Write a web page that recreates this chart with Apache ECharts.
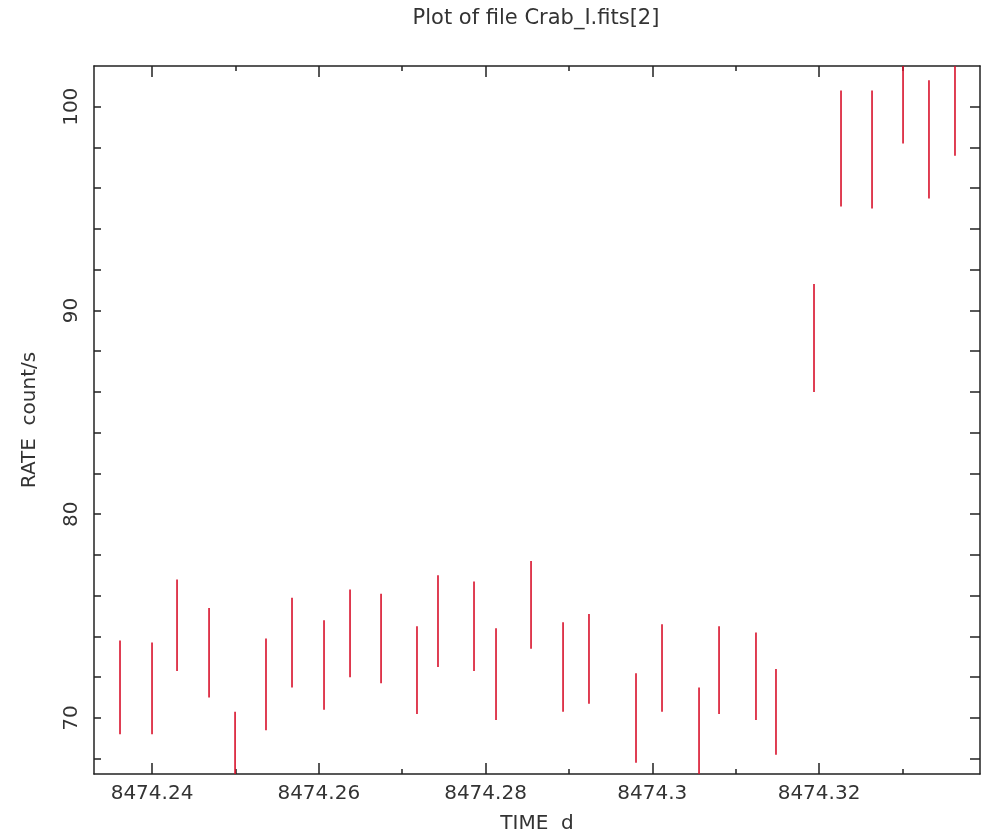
<!DOCTYPE html>
<html>
<head>
<meta charset="utf-8">
<title>Crab_I.fits light curve</title>
<script src="https://cdn.jsdelivr.net/npm/echarts@6/dist/echarts.min.js"></script>
<style>
  html, body { margin: 0; padding: 0; background: #fff; }
  #chart { width: 990px; height: 832px; }
</style>
</head>
<body>
<div id="chart"></div>
<script>
// 时间 (d) 和计数率 (count/s)，误差为半长
var times = [8474.23616, 8474.2400, 8474.2430, 8474.24684, 8474.24996, 8474.25367,
	8474.25679, 8474.26063, 8474.26375, 8474.26747, 8474.27178, 8474.27430,
	8474.27862, 8474.28126, 8474.28546, 8474.28930, 8474.29241, 8474.29805,
	8474.30117, 8474.30561, 8474.30801, 8474.31244, 8474.31484, 8474.3194,
	8474.32264, 8474.32636, 8474.33008, 8474.33319, 8474.33631];
var rate = [71.5, 71.45, 74.55, 73.2, 68.1, 71.65, 73.7, 72.6, 74.15, 73.9,
	72.35, 74.75, 74.5, 72.15, 75.55, 72.5, 72.9, 70.0, 72.45, 69.3,
	72.35, 72.05, 70.3, 88.65, 97.95, 97.9, 101.15, 98.4, 100.55];
var rateErr = [2.3, 2.25, 2.25, 2.2, 2.2, 2.25, 2.2, 2.2, 2.15, 2.2,
	2.15, 2.25, 2.2, 2.25, 2.15, 2.2, 2.2, 2.2, 2.15, 2.2,
	2.15, 2.15, 2.1, 2.65, 2.85, 2.9, 2.95, 2.9, 2.95];

// 刻度
var xMajor = [8474.24, 8474.26, 8474.28, 8474.30, 8474.32];
var xMinor = [8474.25, 8474.27, 8474.29, 8474.31, 8474.33];
var yMajor = [70, 80, 90, 100];
var yTicks = [68, 70, 72, 74, 76, 78, 80, 82, 84, 86, 88, 90, 92, 94, 96, 98, 100];

var X_MIN = 8474.23304, X_MAX = 8474.33931;
var Y_MIN = 67.25, Y_MAX = 102;

var FONT = 'DejaVu Sans';
var INK = '#222';

function xAxisDef(pos, ticks, len, withLabel) {
	return {
		type: 'value',
		position: pos,
		min: X_MIN,
		max: X_MAX,
		axisLine: { show: withLabel, lineStyle: { color: INK, width: 1.5 } },
		axisTick: { show: true, inside: true, length: len, customValues: ticks,
			lineStyle: { color: INK, width: 1.5 } },
		axisLabel: { show: withLabel && pos === 'bottom', customValues: xMajor,
			margin: 10, color: '#333', fontFamily: FONT, fontSize: 20,
			formatter: function (v) { return String(+v.toFixed(4)); } },
		splitLine: { show: false },
		name: withLabel && pos === 'bottom' ? 'TIME  d' : '',
		nameLocation: 'middle',
		nameGap: 40,
		nameTextStyle: { color: '#333', fontFamily: FONT, fontSize: 20 }
	};
}

function yAxisDef(pos, withLabel) {
	return {
		type: 'value',
		position: pos,
		min: Y_MIN,
		max: Y_MAX,
		axisLine: { show: true, lineStyle: { color: INK, width: 1.5 } },
		axisTick: { show: true, inside: true, length: withLabel ? 7 : 10, customValues: yTicks,
			lineStyle: { color: INK, width: 1.5 } },
		axisLabel: { show: withLabel, customValues: yMajor, rotate: 90,
			margin: 12, color: '#333', fontFamily: FONT, fontSize: 20 },
		splitLine: { show: false },
		name: withLabel ? 'RATE  count/s' : '',
		nameLocation: 'middle',
		nameGap: 54,
		nameRotate: 90,
		nameTextStyle: { color: '#333', fontFamily: FONT, fontSize: 20 }
	};
}

var _chart = echarts.init(document.getElementById('chart'));
_chart.setOption({
	backgroundColor: '#fff',
	animation: false,
	title: {
		text: 'Plot of file Crab_I.fits[2]',
		left: 531,
		textAlign: 'center',
		top: 3,
		textStyle: { color: '#333', fontFamily: FONT, fontSize: 21, fontWeight: 'normal' }
	},
	grid: {
		left: 94, top: 66, right: 10, bottom: 58,
		containLabel: false,
		outerBoundsMode: 'none'
	},
	xAxis: [
		xAxisDef('bottom', xMajor, 11, true),
		xAxisDef('bottom', xMinor, 5, false),
		xAxisDef('top', xMajor, 11, true),
		xAxisDef('top', xMinor, 5, false)
	],
	yAxis: [
		yAxisDef('left', true),
		yAxisDef('right', false)
	],
	series: [
		{
			type: 'custom',
			xAxisIndex: 0,
			yAxisIndex: 0,
			clip: true,
			encode: { x: 0, y: 1 },
			data: times.map(function (t, i) { return [t, rate[i], rateErr[i]]; }),
			renderItem: function (params, api) {
				var x = api.value(0), y = api.value(1), e = api.value(2);
				var p1 = api.coord([x, y + e]);
				var p2 = api.coord([x, y - e]);
				return {
					type: 'line',
					shape: { x1: p1[0], y1: p1[1], x2: p2[0], y2: p2[1] },
					style: { stroke: '#d8102a', lineWidth: 1.6 }
				};
			}
		}
	]
});
</script>
</body>
</html>
